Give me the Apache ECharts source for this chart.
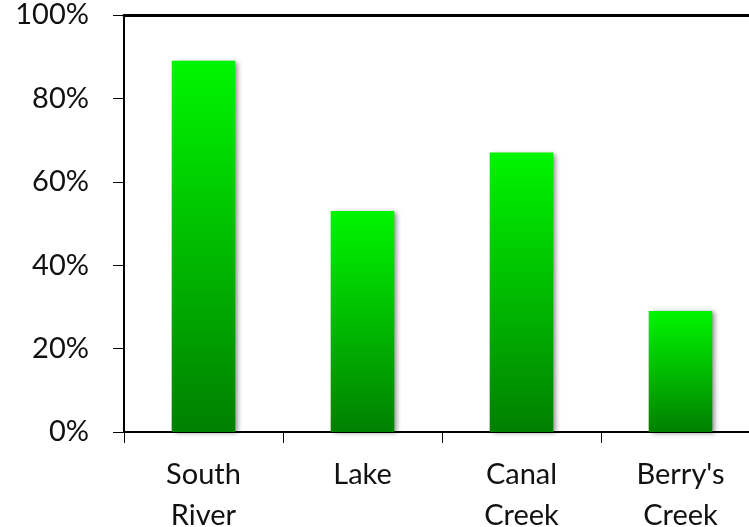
<!DOCTYPE html>
<html>
<head>
<meta charset="utf-8">
<script src="https://cdn.jsdelivr.net/npm/echarts@6/dist/echarts.min.js"></script>
<style>
  html, body { margin: 0; padding: 0; background: #fff; }
  #chart { width: 749px; height: 527px; }
</style>
</head>
<body>
<div id="chart"></div>
<script>
// Share of samples per site (percent)
const categories = ['South\nRiver', 'Lake', 'Canal\nCreek', "Berry's\nCreek"];
const values = [89, 53, 67, 29];
const yTicks = [0, 20, 40, 60, 80, 100];

const chart = echarts.init(document.getElementById('chart'));
const labelFont = 'Lato, "Open Sans", sans-serif';

chart.setOption({
  animation: false,
  grid: {
    left: 124, top: 15, right: -11, bottom: 95,
    containLabel: false, outerBoundsMode: 'none'
  },
  xAxis: [{
    type: 'category',
    data: categories,
    boundaryGap: true,
    axisLine: { show: true, lineStyle: { color: '#000', width: 2 } },
    axisTick: { show: true, alignWithLabel: false, length: 11, lineStyle: { color: '#000', width: 1 } },
    axisLabel: { color: '#111', fontSize: 29, fontFamily: labelFont, lineHeight: 41, margin: 22 }
  }, {
    type: 'category',
    position: 'top',
    data: categories,
    axisLine: { show: true, lineStyle: { color: '#000', width: 3 } },
    axisTick: { show: false },
    axisLabel: { show: false }
  }],
  yAxis: {
    type: 'value',
    min: 0,
    max: 100,
    interval: 20,
    axisLine: { show: true, lineStyle: { color: '#000', width: 2 } },
    axisTick: { show: true, length: 11, lineStyle: { color: '#000', width: 1 } },
    axisLabel: {
      color: '#111', fontSize: 29, fontFamily: labelFont, margin: 35,
      formatter: v => (yTicks.includes(v) ? v + '%' : '')
    },
    splitLine: { show: false }
  },
  series: [{
    type: 'bar',
    data: values,
    barWidth: '40%',
    itemStyle: {
      color: new echarts.graphic.LinearGradient(0, 0, 0, 1, [
        { offset: 0, color: '#00f600' },
        { offset: 1, color: '#008000' }
      ]),
      shadowColor: 'rgba(0,0,0,0.45)',
      shadowBlur: 5,
      shadowOffsetX: 3,
      shadowOffsetY: 1
    }
  }]
});
</script>
</body>
</html>
